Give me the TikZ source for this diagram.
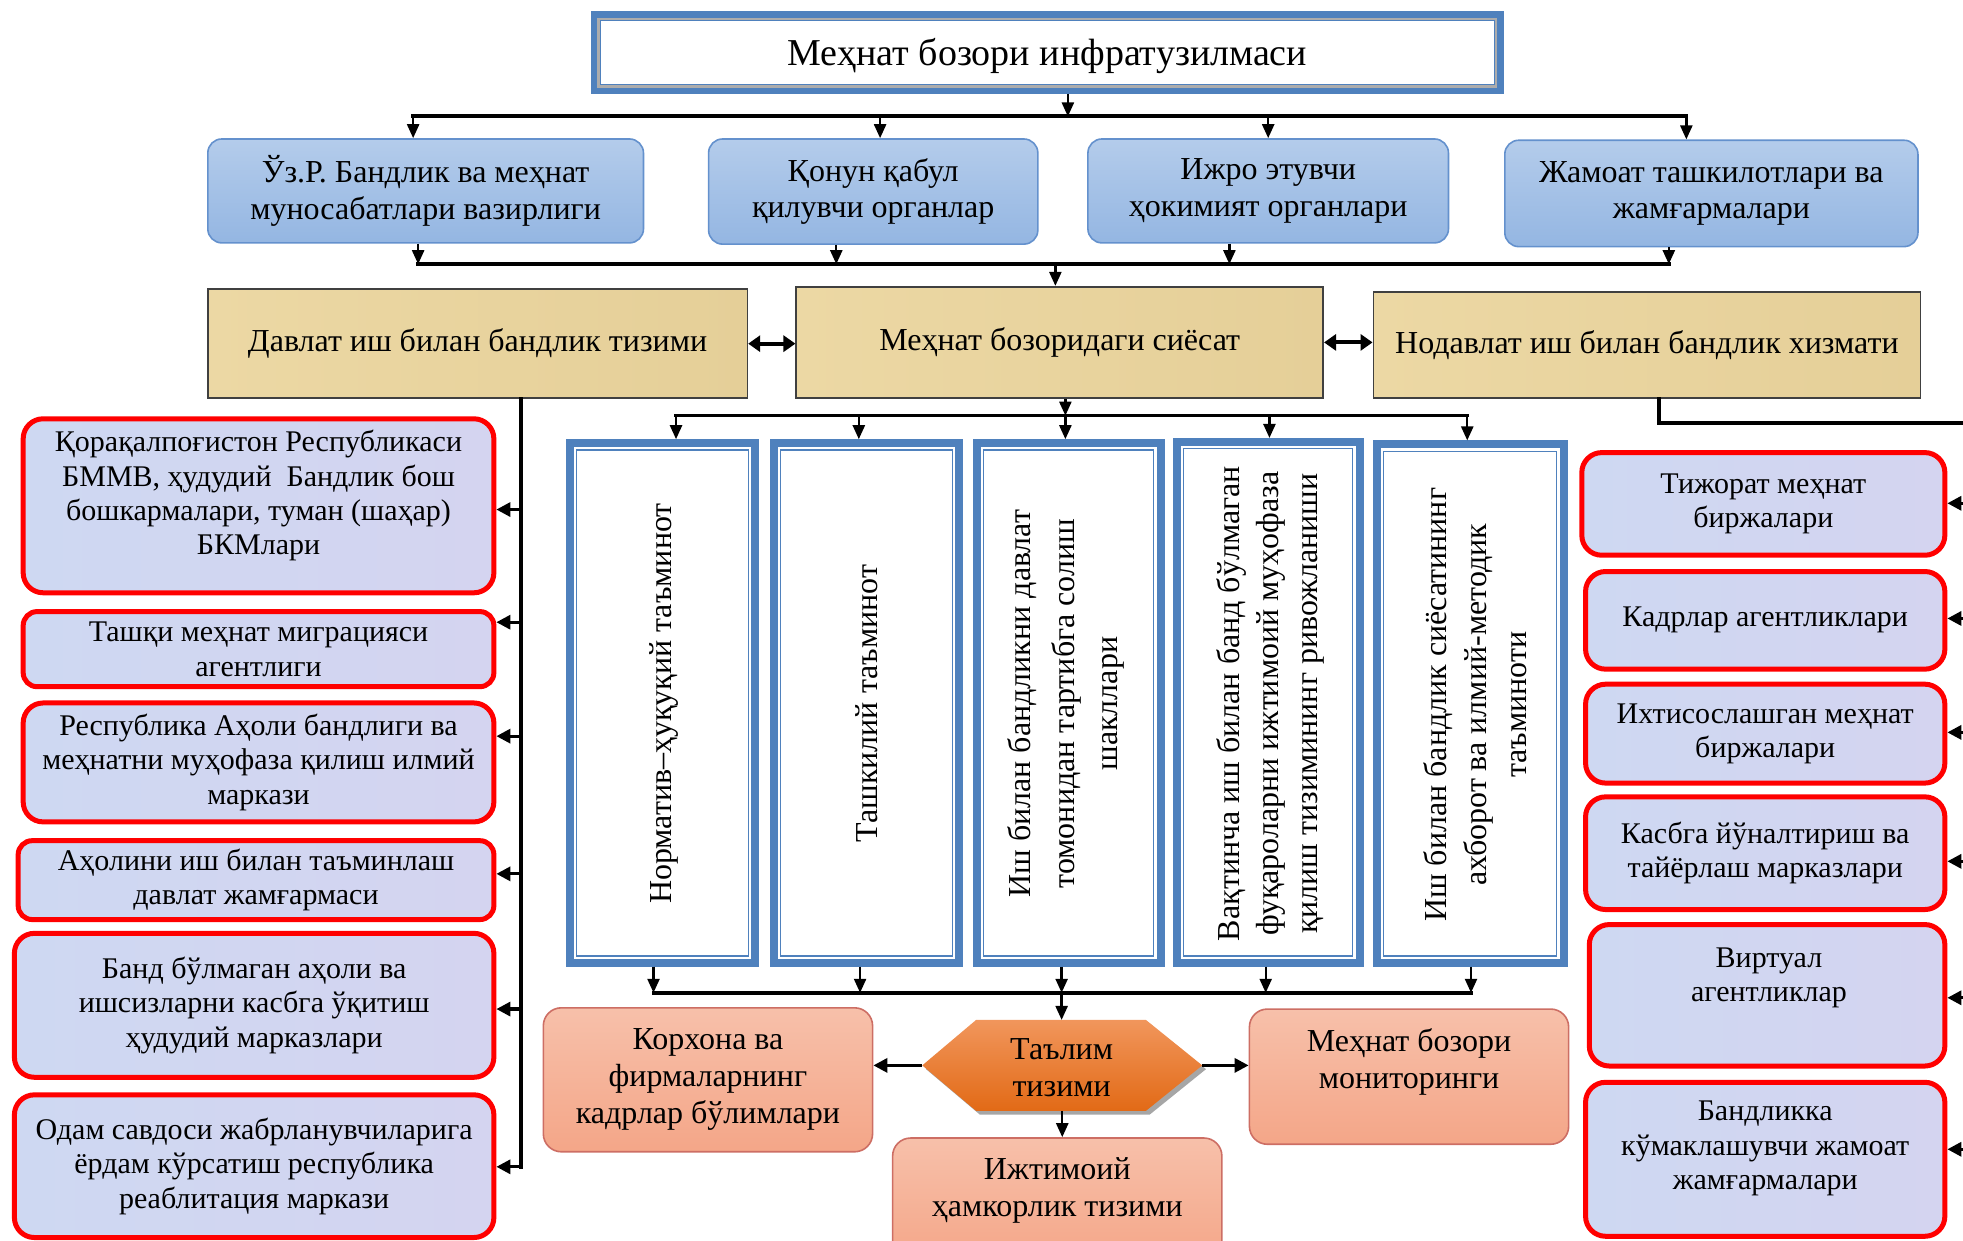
\documentclass[tikz,border=0pt]{standalone}
\usepackage{fontspec}
\setmainfont{Liberation Serif}
\usetikzlibrary{arrows.meta}
\definecolor{tb}{RGB}{79,129,189}
\definecolor{bbd}{RGB}{100,145,205}
\definecolor{btop}{RGB}{180,204,235}
\definecolor{bbot}{RGB}{148,182,226}
\definecolor{tan}{RGB}{236,216,164}
\definecolor{tand}{RGB}{229,207,152}
\definecolor{lav}{RGB}{206,216,242}
\definecolor{lavp}{RGB}{212,212,240}
\definecolor{stop}{RGB}{247,192,170}
\definecolor{sbot}{RGB}{244,166,136}
\definecolor{sbd}{RGB}{205,110,100}
\definecolor{htop}{RGB}{241,150,92}
\definecolor{hmid}{RGB}{245,126,40}
\definecolor{hbot}{RGB}{226,106,22}
\tikzset{
  sz/.style 2 args={minimum width={(#1)*0.626pt}, minimum height={(#2)*0.626pt}},
  base/.style={inner sep=0pt, align=center},
  topbox/.style={base, draw=tb, line width=5pt, fill=white},
  toptext/.style={base, font=\fontsize{19}{22}\selectfont},
  bluebox/.style={base, draw=bbd, line width=0.8pt, rounded corners=7pt, top color=btop, bottom color=bbot, font=\fontsize{16}{18.3}\selectfont},
  tanbox/.style={base, draw=black!75, line width=0.8pt, left color=tan, right color=tand, font=\fontsize{16}{19}\selectfont},
  vbox/.style={base, draw=tb, line width=4pt, fill=white},
  vtext/.style={base, rotate=90, font=\fontsize{16}{20}\selectfont},
  redbox/.style={base, draw=red, line width=2.5pt, rounded corners=10pt, left color=lav, right color=lavp, font=\fontsize{15}{17.2}\selectfont},
  redtext/.style={base, font=\fontsize{15}{17.2}\selectfont},
  salbox/.style={base, draw=sbd, line width=0.8pt, rounded corners=9pt, top color=stop, bottom color=sbot, font=\fontsize{16}{18.5}\selectfont},
  saltext/.style={base, font=\fontsize{16}{18.5}\selectfont},
  arr/.style={-{Triangle[length=7pt,width=6pt]}, line width=1.2pt},
  larr/.style={-{Triangle[length=7pt,width=7pt]}, line width=1.6pt},
  darr/.style={{Triangle[length=6pt,width=8pt]}-{Triangle[length=6pt,width=8pt]}, line width=2pt},
  bus/.style={line width=2pt, line cap=rect},
}
\newcommand\vinner[1]{%
  \draw[tb, line width=1pt] ([shift={(5.6,5.6)}]#1.north west) rectangle ([shift={(-5.6,-5.6)}]#1.south east);
  \draw[tb, line width=0.6pt] ([shift={(8.6,8.6)}]#1.north west) rectangle ([shift={(-8.6,-8.6)}]#1.south east);}
\begin{document}
\begin{tikzpicture}[x=0.626pt,y=-0.626pt]
\useasboundingbox (0,0) rectangle (1568,991);
\clip (0,0) rectangle (1568,991);

% ---------- top box
\node[topbox, sz={721}{58}] (top) at (836.5,42) {};
\draw[gray!65, line width=1.2pt] ([shift={(6,6)}]top.north west) rectangle ([shift={(-6,-6)}]top.south east);
\node[toptext] (topt) at (836.5,44.5) {Меҳнат бозори инфратузилмаси};

% ---------- blue boxes
\node[bluebox, sz={348}{83}] (b1) at (340,152.5) {Ўз.Р. Бандлик ва меҳнат\\муносабатлари вазирлиги};
\node[bluebox, sz={263}{84}] (b2) at (697.5,153) {Қонун қабул\\қилувчи органлар};
\node[bluebox, sz={288}{83}] (b3) at (1013,152.5) {Ижро этувчи\\ҳокимият органлари};
\node[bluebox, sz={330}{85}] (b4) at (1367,154.5) {Жамоат ташкилотлари ва\\жамғармалари};

\coordinate (p0) at (853,93);
\coordinate (p1) at (330,93);
\coordinate (p2) at (703,93);
\coordinate (p3) at (1013,93);
\coordinate (p4) at (1347,93);
\draw[bus] (p1) -- (p4);
\draw[arr] (top.south -| p0) -- (p0);
\draw[arr] (p1) -- (p1 |- b1.north);
\draw[arr] (p2) -- (p2 |- b2.north);
\draw[arr] (p3) -- (p3 |- b3.north);
\draw[arr] (p4) -- (p4 |- b4.north);

% ---------- tan boxes
\node[tanbox, sz={431}{87}] (t1) at (381.5,274.5) {Давлат иш билан бандлик тизими};
\node[tanbox, sz={421}{89}] (t2) at (846.5,273.5) {Меҳнат бозоридаги сиёсат};
\node[tanbox, sz={437}{85}] (t3) at (1315.5,275.5) {Нодавлат иш билан бандлик хизмати};

\coordinate (q0) at (843,211);
\coordinate (q1) at (334,211);
\coordinate (q2) at (668,211);
\coordinate (q3) at (982,211);
\coordinate (q4) at (1333,211);
\draw[bus] (q1) -- (q4);
\draw[arr] (q1 |- b1.south) -- (q1);
\draw[arr] (q2 |- b2.south) -- (q2);
\draw[arr] (q3 |- b3.south) -- (q3);
\draw[arr] (q4 |- b4.south) -- (q4);
\draw[arr] (q0) -- (q0 |- t2.north);

\draw[darr] (t1.east) -- (t1.east -| t2.west);
\draw[darr] (t2.east) -- (t2.east -| t3.west);

% ---------- vertical boxes
\node[vbox, sz={148}{415}] (v1) at (529,561.5) {};
\node[vbox, sz={148}{415}] (v2) at (692,561.5) {};
\node[vbox, sz={147}{415}] (v3) at (853.5,561.5) {};
\node[vbox, sz={146}{416}] (v4) at (1013,561) {};
\node[vbox, sz={149}{414}] (v5) at (1174.5,562) {};
\vinner{v1}\vinner{v2}\vinner{v3}\vinner{v4}\vinner{v5}
\node[vtext] (v1t) at (530,562) {Норматив–ҳуқуқий таъминот};
\node[vtext] (v2t) at (692,562) {Ташкилий таъминот};
\node[vtext, font=\fontsize{16}{21.6}\selectfont] (v3t) at (851.5,562) {Иш билан бандликни давлат\\томонидан тартибга солиш\\шакллари};
\node[vtext, font=\fontsize{16}{19.4}\selectfont] (v4t) at (1015,562) {Вақтинча иш билан банд бўлмаган\\фуқароларни ижтимоий муҳофаза\\қилиш тизимининг ривожланиши};
\node[vtext] (v5t) at (1178,563) {Иш билан бандлик сиёсатининг\\ахборот ва илмий-методик\\таъминоти};

\coordinate (r0) at (851,332);
\coordinate (r1) at (540,332);
\coordinate (r2) at (686,332);
\coordinate (r3) at (851,332);
\coordinate (r4) at (1014,332);
\coordinate (r5) at (1172,332);
\draw[line width=1.6pt, line cap=rect] (r1) -- (r5);
\draw[arr] (t2.south -| r0) -- (r0);
\draw[arr] (r1) -- (r1 |- v1.north);
\draw[arr] (r2) -- (r2 |- v2.north);
\draw[arr] (r3) -- (r3 |- v3.north);
\draw[arr] (r4) -- (r4 |- v4.north);
\draw[arr] (r5) -- (r5 |- v5.north);

\coordinate (u0) at (848,793);
\coordinate (u1) at (522,793);
\coordinate (u2) at (687,793);
\coordinate (u3) at (848,793);
\coordinate (u4) at (1011,793);
\coordinate (u5) at (1175,793);
\draw[bus] (u1) -- (u5);
\draw[arr] (u1 |- v1.south) -- (u1);
\draw[arr] (u2 |- v2.south) -- (u2);
\draw[arr] (u3 |- v3.south) -- (u3);
\draw[arr] (u4 |- v4.south) -- (u4);
\draw[arr] (u5 |- v5.south) -- (u5);

% ---------- hexagon and salmon boxes
\node[base, sz={223}{72}] (hex) at (848.5,851) {};
\fill[gray!70] ([shift={(3,3)}]hex.west) -- ([shift={(46,3)}]hex.north west) -- ([shift={(-42,3)}]hex.north east) -- ([shift={(3,3)}]hex.east) -- ([shift={(-42,3)}]hex.south east) -- ([shift={(46,3)}]hex.south west) -- cycle;
\path[shading=axis, top color=htop, middle color=hmid, bottom color=hbot] (hex.west) -- ([shift={(43,0)}]hex.north west) -- ([shift={(-45,0)}]hex.north east) -- (hex.east) -- ([shift={(-45,0)}]hex.south east) -- ([shift={(43,0)}]hex.south west) -- cycle;
\node[saltext] (hext) at (848,853) {Таълим\\тизими};
\draw[arr] (u0) -- (u0 |- hex.north);

\node[salbox, sz={263}{115}] (s1) at (565.5,862.5) {Корхона ва\\фирмаларнинг\\кадрлар бўлимлари};
\node[salbox, sz={255}{108}] (s2) at (1125.5,860) {};
\node[saltext] (s2t) at (1125.5,848) {Меҳнат бозори\\мониторинги};
\node[salbox, sz={263}{100}] (s3) at (844.5,959) {};
\node[saltext] (s3t) at (844.5,951) {Ижтимоий\\ҳамкорлик тизими};

\draw[larr] (hex.west) -- (hex.west -| s1.east);
\draw[larr] (hex.east) -- (hex.east -| s2.west);
\draw[arr] (hex.south) -- (hex.south |- s3.north);

% ---------- left red boxes
\node[redbox, sz={376}{139}] (L1) at (206.5,404) {};
\node[redtext] (L1t) at (206.5,396) {Қорақалпоғистон Республикаси\\БММВ, ҳудудий\ \ Бандлик бош\\бошкармалари, туман (шаҳар)\\БКМлари};
\node[redbox, rounded corners=7pt, sz={376}{60}] (L2) at (206.5,518.5) {Ташқи меҳнат миграцияси\\агентлиги};
\node[redbox, sz={376}{95}] (L3) at (206.5,609) {Республика Аҳоли бандлиги ва\\меҳнатни муҳофаза қилиш илмий\\маркази};
\node[redbox, rounded corners=7pt, sz={380}{63}] (L4) at (204.5,703) {Аҳолини иш билан таъминлаш\\давлат жамғармаси};
\node[redbox, sz={383}{115}] (L5) at (203,803) {Банд бўлмаган аҳоли ва\\ишсизларни касбга ўқитиш\\ҳудудий марказлари};
\node[redbox, sz={383}{114}] (L6) at (203,931.5) {Одам савдоси жабрланувчиларига\\ёрдам кўрсатиш республика\\реаблитация маркази};

\coordinate (lt) at (416,932);
\draw[bus] (t1.south -| lt) -- (lt);
\coordinate (la1) at (416,407);
\coordinate (la2) at (416,497);
\coordinate (la3) at (416,588);
\coordinate (la4) at (416,698);
\coordinate (la5) at (416,806);
\coordinate (la6) at (416,932);
\draw[larr] (la1) -- (la1 -| L1.east);
\draw[larr] (la2) -- (la2 -| L2.east);
\draw[larr] (la3) -- (la3 -| L3.east);
\draw[larr] (la4) -- (la4 -| L4.east);
\draw[larr] (la5) -- (la5 -| L5.east);
\draw[larr] (la6) -- (la6 -| L6.east);

% ---------- right red boxes
\node[redbox, sz={290}{82}] (R1) at (1408.5,402.5) {Тижорат меҳнат\\биржалари};
\node[redbox, sz={287}{78}] (R2) at (1410,495.5) {Кадрлар агентликлари};
\node[redbox, sz={287}{79}] (R3) at (1410,586) {Ихтисослашган меҳнат\\биржалари};
\node[redbox, sz={287}{90}] (R4) at (1410,681.5) {Касбга йўналтириш ва\\тайёрлаш марказлари};
\node[redbox, sz={284}{113}] (R5) at (1411.5,795) {};
\node[redtext] (R5t) at (1413,781) {Виртуал\\агентликлар};
\node[redbox, sz={287}{123}] (R6) at (1410,926) {};
\node[redtext] (R6t) at (1410,917.5) {Бандликка\\кўмаклашувчи жамоат\\жамғармалари};

\coordinate (rr) at (1325,338);
\coordinate (rx) at (1600,338);
\draw[bus] (t3.south -| rr) -- (rr) -- (rx);
\coordinate (ra1) at (1600,402);
\coordinate (ra2) at (1600,494);
\coordinate (ra3) at (1600,585);
\coordinate (ra4) at (1600,688);
\coordinate (ra5) at (1600,797);
\coordinate (ra6) at (1600,918);
\draw[larr] (ra1) -- (ra1 -| R1.east);
\draw[larr] (ra2) -- (ra2 -| R2.east);
\draw[larr] (ra3) -- (ra3 -| R3.east);
\draw[larr] (ra4) -- (ra4 -| R4.east);
\draw[larr] (ra5) -- (ra5 -| R5.east);
\draw[larr] (ra6) -- (ra6 -| R6.east);
\end{tikzpicture}
\end{document}
